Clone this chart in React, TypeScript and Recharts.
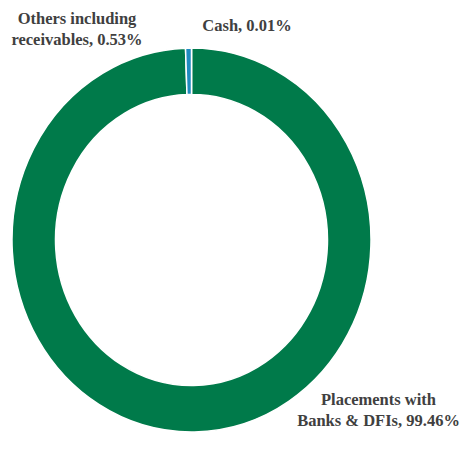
import { PieChart, Pie, Cell } from "recharts";

// Asset allocation shares (%)
const categories = ["Cash", "Placements with Banks & DFIs", "Others including receivables"];
const shares = [0.01, 99.46, 0.53];
const colors = ["#1F8BC0", "#007A4A", "#1F8BC0"];

const data = categories.map((name, i) => ({ name, value: shares[i] }));

const W = 461;
const H = 453;
const CX = 191.5;
const CY = 240;
// ring is slightly taller than wide in the reference
const STRETCH = 192 / 179.5;

const labelStyle: React.CSSProperties = {
  position: "absolute",
  fontFamily: "'Liberation Serif', 'DejaVu Serif', serif",
  fontWeight: 700,
  fontSize: 16.5,
  lineHeight: "21px",
  color: "#404040",
  textAlign: "center",
  whiteSpace: "nowrap",
};

export default function App() {
  return (
    <div style={{ position: "absolute", left: 0, top: 0, width: W, height: H, background: "#fff", overflow: "hidden" }}>
      <div style={{ position: "absolute", left: 0, top: 0, transform: `scaleY(${STRETCH})`, transformOrigin: `${CX}px ${CY}px` }}>
        <PieChart width={W} height={H} margin={{ top: 0, right: 0, bottom: 0, left: 0 }}>
          <Pie
            data={data}
            dataKey="value"
            nameKey="name"
            cx={CX}
            cy={CY}
            innerRadius={136}
            outerRadius={179.5}
            startAngle={90}
            endAngle={-270}
            stroke="#ffffff"
            strokeWidth={1.5}
            isAnimationActive={false}
            label={false}
            labelLine={false}
          >
            {data.map((d, i) => (
              <Cell key={d.name} fill={colors[i]} />
            ))}
          </Pie>
        </PieChart>
      </div>

      <div style={{ ...labelStyle, left: 0, width: 154, top: 8 }}>
        Others including
        <br />
        receivables, {shares[2].toFixed(2)}%
      </div>
      <div style={{ ...labelStyle, left: 200, width: 94, top: 15 }}>
        Cash, {shares[0].toFixed(2)}%
      </div>
      <div style={{ ...labelStyle, left: 296, width: 165, top: 389 }}>
        Placements with
        <br />
        Banks &amp; DFIs, {shares[1].toFixed(2)}%
      </div>
    </div>
  );
}
